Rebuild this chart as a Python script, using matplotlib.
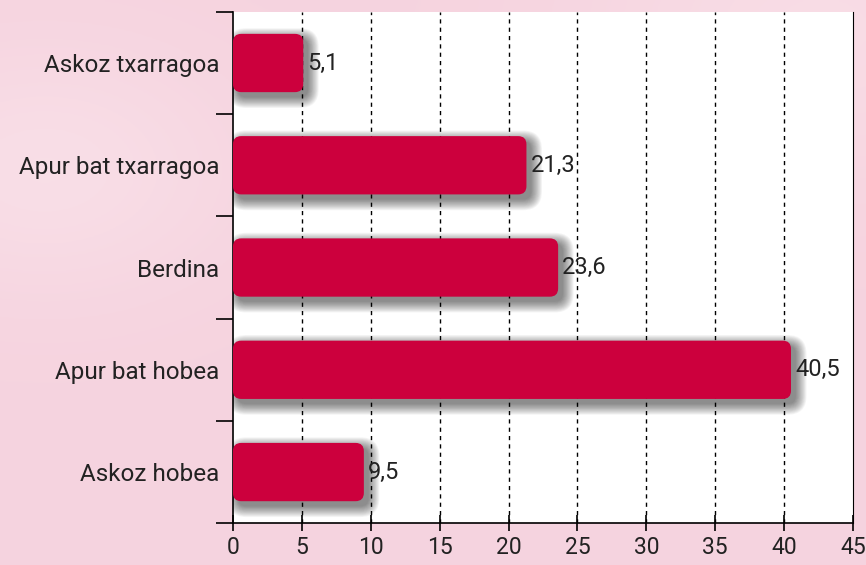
import numpy as np
import matplotlib.pyplot as plt
from matplotlib.patches import FancyBboxPatch

categories = ['Askoz txarragoa', 'Apur bat txarragoa', 'Berdina', 'Apur bat hobea', 'Askoz hobea']
values = [5.1, 21.3, 23.6, 40.5, 9.5]
xticks = [0, 5, 10, 15, 20, 25, 30, 35, 40, 45]

plt.rcParams['font.family'] = ['Roboto', 'DejaVu Sans']

fig = plt.figure(figsize=(8.66, 5.65), dpi=100)

# pink background with soft light patches
bg = fig.add_axes([0, 0, 1, 1])
yy, xx = np.mgrid[0:1:200j, 0:1:300j]
shade = 0.35 + 0.3 * np.exp(-((xx - 0.05) ** 2 + (yy - 0.7) ** 2) / 0.05) \
    + 0.25 * np.exp(-((xx - 0.95) ** 2 + (yy - 0.95) ** 2) / 0.08)
shade = np.clip(shade, 0, 1)
pink_dark = np.array([0.95, 0.78, 0.84])
pink_light = np.array([0.99, 0.92, 0.94])
img = pink_dark + (pink_light - pink_dark) * shade[..., None]
bg.imshow(img, aspect='auto', extent=[0, 1, 0, 1], origin='lower')
bg.axis('off')

ax = fig.add_axes([0.269, 0.074, 0.716, 0.905])
ax.set_facecolor('white')

n = len(categories)
ypos = np.arange(n)[::-1]
bar_h = 0.57
ax.set_xlim(0, 45)
ax.set_ylim(-0.5, n - 0.5)

px_x = 620 / 45.0
px_y = 511 / 5.0
aspect = px_x / px_y
r = 0.6

for y, v in zip(ypos, values):
    # soft shadow, shifted right and down
    for k in range(14):
        pad = 0.06 * k
        sh = FancyBboxPatch((0.35, y - bar_h / 2 - 0.05), v, bar_h,
                            boxstyle='round,pad=%f,rounding_size=%f' % (pad, r + pad),
                            mutation_aspect=aspect, facecolor='black',
                            edgecolor='none', alpha=0.04, zorder=2)
        ax.add_patch(sh)
    bar = FancyBboxPatch((0, y - bar_h / 2), v, bar_h,
                         boxstyle='round,pad=0,rounding_size=%f' % r,
                         mutation_aspect=aspect, facecolor='#cc003d',
                         edgecolor='none', zorder=3)
    ax.add_patch(bar)
    ax.text(v + 0.3, y, ('%.1f' % v).replace('.', ','), va='center', ha='left',
            fontsize=17, color='#222222', zorder=4)

for x in xticks[1:-1]:
    ax.axvline(x, color='black', linestyle=(0, (3, 3)), linewidth=1, zorder=1)

ax.set_xticks(xticks)
ax.set_xticklabels([str(x) for x in xticks], fontsize=16.5, color='#222222')
ax.set_yticks(ypos)
ax.set_yticklabels(categories, fontsize=17.5, color='#222222')
ax.set_yticks(np.arange(-0.5, n, 1), minor=True)
ax.tick_params(axis='y', which='major', length=0, pad=10)
ax.tick_params(axis='y', which='minor', length=12, width=1.2, direction='out')
ax.tick_params(axis='x', length=12, width=1.2, direction='inout', pad=3)
ax.spines['top'].set_visible(False)
for s in ['left', 'bottom', 'right']:
    ax.spines[s].set_linewidth(1.2)
    ax.spines[s].set_color('black')
ax.spines['right'].set_linewidth(0.8)

fig.savefig('out.png', dpi=100)
